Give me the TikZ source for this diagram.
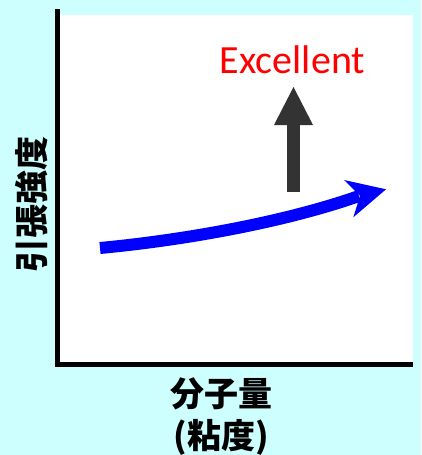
\documentclass[tikz,border=0pt]{standalone}
\usepackage{fontspec}
\setmainfont{Carlito}
\newfontfamily\cjk{Noto Sans CJK JP}
\definecolor{bgcyan}{RGB}{206,255,255}
\definecolor{arrowgray}{RGB}{51,51,51}
\begin{document}
\begin{tikzpicture}[x=1pt,y=-1pt,
  axisline/.style={line width=5pt,black},
  cjklabel/.style={font=\cjk\bfseries\fontsize{34}{40}\selectfont,inner sep=0pt}]
\fill[bgcyan] (0,0) rectangle (421,455);
\useasboundingbox (0,0) rectangle (421,455);
\fill[white] (60,15) rectangle (413,362);
% axes
\coordinate (ytop) at (57.5,9);
\coordinate (origin) at (57.5,364.5);
\coordinate (xend) at (413,364.5);
\draw[axisline] (ytop) -- ([yshift=-2.5pt]origin);
\draw[axisline] ([xshift=-2.5pt]origin) -- (xend);
% blue curved arrow
\coordinate (bstart) at (100,248);
\coordinate (bend) at (359,196);
\draw[blue,line width=12pt] (bstart) .. controls (185,240) and (285,222) .. (bend);
\fill[blue] (344,180) -- (386,189.3) -- (353.3,217.3) -- (360,196) -- cycle;
% gray arrow
\fill[arrowgray] (287,192) rectangle (300,125);
\fill[arrowgray] (274,125) -- (293.5,87) -- (313,125) -- cycle;
% labels
\node[red,font=\fontsize{40}{44}\selectfont,anchor=base,inner sep=0pt] (exc) at (292.5,73) {Excellent};
\node[cjklabel,rotate=90] (ylab) at (32,204.5) {引張強度};
\node[cjklabel] (xlab1) at (221,394) {分子量};
\node[cjklabel] (xlab2) at (221,437) {(粘度)};
\end{tikzpicture}
\end{document}
